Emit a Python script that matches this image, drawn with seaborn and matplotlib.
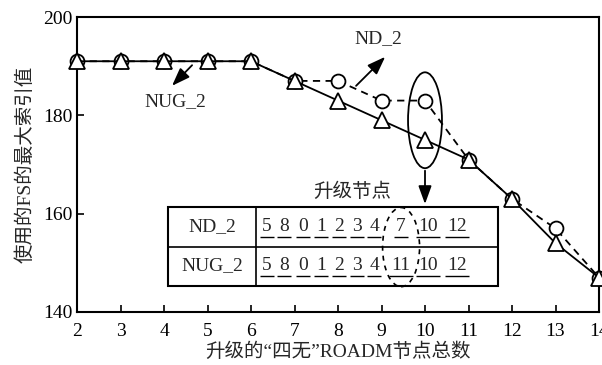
import matplotlib
matplotlib.use("Agg")
import matplotlib.pyplot as plt
import seaborn as sns
import numpy as np
import pandas as pd
from matplotlib.patches import Ellipse, Rectangle

# ---- data ----
nodes = [2, 3, 4, 5, 6, 7, 8, 9, 10, 11, 12, 13, 14]
nd_2 = [191, 191, 191, 191, 191, 187, 187, 183, 183, 171, 163, 157, 147]
nug_2 = [191, 191, 191, 191, 191, 187, 183, 179, 175, 171, 163, 154, 147]
x_ticks = [2, 3, 4, 5, 6, 7, 8, 9, 10, 11, 12, 13, 14]
y_ticks = [140, 160, 180, 200]
row_labels = ["ND_2", "NUG_2"]
seq_nd = ["5", "8", "0", "1", "2", "3", "4", "7", "10", "12"]
seq_nug = ["5", "8", "0", "1", "2", "3", "4", "11", "10", "12"]

sns.set_style("ticks")
plt.rcParams['font.family'] = ['Liberation Serif', 'Noto Sans CJK SC', 'DejaVu Sans']

fig = plt.figure(figsize=(6.02, 3.65), dpi=100)
ax = fig.add_axes([77/602, 1 - 312/365, (599-77)/602, (312-17)/365])

df = pd.DataFrame({"x": nodes, "nd": nd_2, "nug": nug_2})
sns.lineplot(data=df, x="x", y="nd", ax=ax, color="black", linestyle=(0, (4, 3)),
             linewidth=1.3, marker="o", markersize=10, markerfacecolor="white",
             markeredgecolor="black", markeredgewidth=1.3, zorder=3, clip_on=False)
sns.lineplot(data=df, x="x", y="nug", ax=ax, color="black", linestyle="-",
             linewidth=1.3, marker="^", markersize=11, markerfacecolor="white",
             markeredgecolor="black", markeredgewidth=1.3, zorder=4, clip_on=False)

ax.set_xlim(2, 14)
ax.set_ylim(140, 200)
ax.set_xticks(x_ticks)
ax.set_yticks(y_ticks)
ax.tick_params(direction="in", length=5, width=1.2, labelsize=14, colors="black")
ax.tick_params(axis="x", pad=8)
for s in ax.spines.values():
    s.set_linewidth(1.5)
    s.set_color("black")
    s.set_zorder(2)
ax.set_xlabel("升级的“四无”ROADM节点总数", fontsize=14, labelpad=2)
ax.set_ylabel("使用的FS的最大索引值", fontsize=14, labelpad=6)

# ellipse + arrow to table
ax.add_patch(Ellipse((10, 179), 0.78, 19.5, fill=False, edgecolor="black", lw=1.3, zorder=5))
arrow_kw = dict(arrowstyle="-|>,head_length=1.1,head_width=0.4", color="black", lw=1.3)
ax.annotate("", xy=(10, 161.4), xytext=(10, 169.3), arrowprops=arrow_kw, zorder=5)

# series labels with arrows
ax.text(8.92, 195.7, "ND_2", fontsize=14, ha="center", va="center")
ax.annotate("", xy=(9.13, 192.3), xytext=(8.37, 185.6), arrowprops=arrow_kw)
ax.text(4.25, 182.7, "NUG_2", fontsize=14, ha="center", va="center")
ax.annotate("", xy=(4.14, 185.6), xytext=(4.69, 190.6), arrowprops=arrow_kw)

# table
tx0, tx1, tcol = 4.09, 11.68, 6.11
ty0, ty1, tmid = 145.3, 161.4, 153.2
ax.add_patch(Rectangle((tx0, ty0), tx1 - tx0, ty1 - ty0, facecolor="white",
                       edgecolor="black", lw=1.5, zorder=6))
ax.plot([tx0, tx1], [tmid, tmid], color="black", lw=1.2, zorder=7)
ax.plot([tcol, tcol], [ty0, ty1], color="black", lw=1.2, zorder=7)
ax.text(8.32, 164.4, "升级节点", fontsize=14, ha="center", va="center", zorder=7)
row_y = [157.3, 149.4]
for lab, yy in zip(row_labels, row_y):
    ax.text((tx0 + tcol) / 2, yy, lab, fontsize=14, ha="center", va="center", zorder=7)
num_x = [6.37, 6.76, 7.20, 7.61, 8.02, 8.44, 8.83, 9.45, 10.07, 10.74]
for seq, yy in zip([seq_nd, seq_nug], row_y):
    for xx, s in zip(num_x, seq):
        ax.text(xx, yy, s, fontsize=14, ha="center", va="center", zorder=7)
        half = 0.12 * len(s) + 0.04
        ax.plot([xx - half, xx + half], [yy - 2.1, yy - 2.1], color="black",
                lw=1.0, zorder=7, solid_capstyle="butt")
ax.add_patch(Ellipse((9.45, 153.2), 0.85, 16.1, fill=False, edgecolor="black",
                     lw=1.2, linestyle=(0, (3, 3)), zorder=8))

fig.savefig("out.png", dpi=100)
